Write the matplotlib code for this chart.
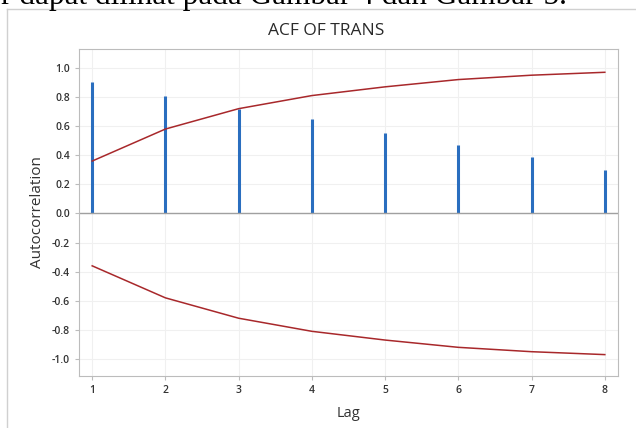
import numpy as np
import matplotlib.pyplot as plt
from matplotlib.lines import Line2D

# data
lags = [1, 2, 3, 4, 5, 6, 7, 8]
acf = [0.90, 0.81, 0.72, 0.65, 0.55, 0.47, 0.39, 0.30]
upper = [0.36, 0.58, 0.72, 0.81, 0.87, 0.92, 0.95, 0.97]
lower = [-0.36, -0.58, -0.72, -0.81, -0.87, -0.92, -0.95, -0.97]
yticks = [1.0, 0.8, 0.6, 0.4, 0.2, 0.0, -0.2, -0.4, -0.6, -0.8, -1.0]

W, H = 636, 428
fig = plt.figure(figsize=(W / 100, H / 100), dpi=100)

# cut-off line of document text above the figure
fig.text(567 / W, 1 - 4 / H, 'r dapat dilihat pada Gambar 4 dan Gambar 5.',
         ha='right', va='baseline', family='Liberation Serif', fontsize=22.5)

# outer graph frame (left and top only visible)
fig.add_artist(Line2D([7 / W, 7 / W], [0, 1 - 9 / H], color='#d0d0d0', lw=1))
fig.add_artist(Line2D([7 / W, 1], [1 - 9 / H, 1 - 9 / H], color='#d0d0d0', lw=1))

ax = fig.add_axes([79 / W, 1 - 376 / H, (618 - 79) / W, (376 - 49) / H])
ax.vlines(lags, 0, acf, color='#2a6ebf', lw=2.2)
ax.plot(lags, upper, color='#a8282b', lw=1.1)
ax.plot(lags, lower, color='#a8282b', lw=1.1)
ax.axhline(0, color='#a0a0a0', lw=1)

ax.set_xlim(0.82, 8.18)
ax.set_ylim(-1.117, 1.13)
ax.set_xticks(lags)
ax.set_yticks(yticks)
ax.set_yticklabels(['%.1f' % v for v in yticks])
ax.grid(True, color='#f0f0f0', lw=0.8)
ax.set_axisbelow(True)
for s in ax.spines.values():
    s.set_color('#bcbcbc')
ax.tick_params(colors='#bcbcbc', labelcolor='#333333', labelsize=7.5, length=3)
for lab in ax.get_xticklabels() + ax.get_yticklabels():
    lab.set_family('Open Sans')
    lab.set_fontweight('semibold')

ax.set_xlabel('Lag', family='Open Sans', fontsize=10.5, color='#333333', labelpad=7)
ax.set_ylabel('Autocorrelation', family='Open Sans', fontsize=11, color='#333333', labelpad=5)
fig.text(326 / W, 1 - 31 / H, 'ACF OF TRANS', ha='center', va='center',
         family='Open Sans', fontsize=12.5, color='#2a2a2a')

plt.savefig('out.png', dpi=100)
